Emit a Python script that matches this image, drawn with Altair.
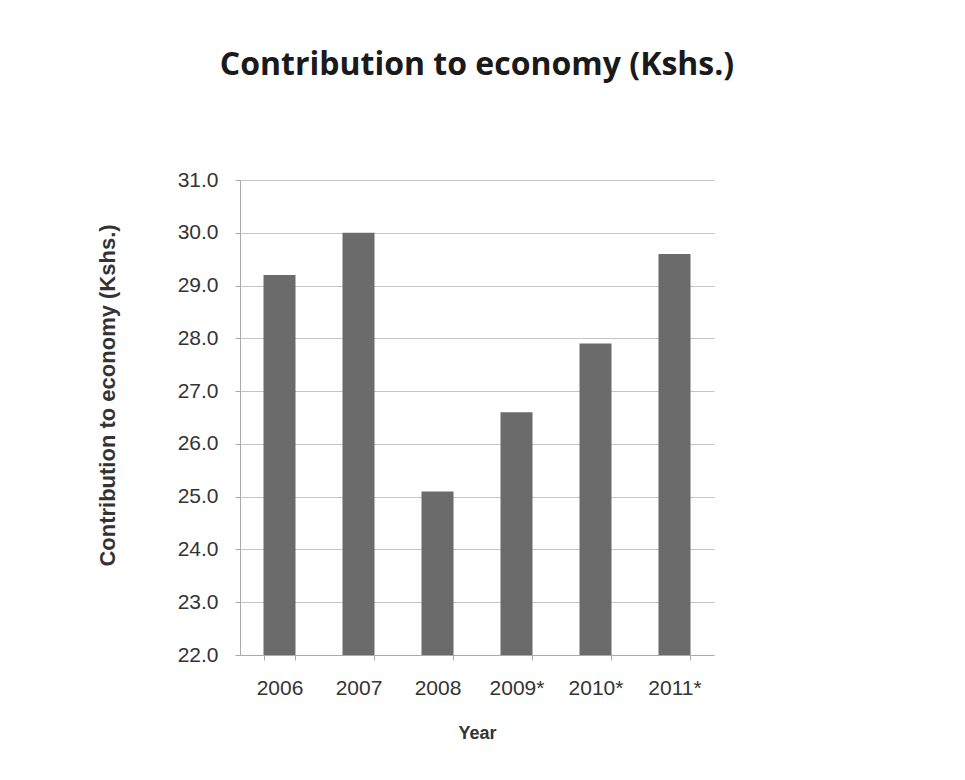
import altair as alt
import pandas as pd

years = ["2006", "2007", "2008", "2009*", "2010*", "2011*"]
values = [29.2, 30.0, 25.1, 26.6, 27.9, 29.6]
y_ticks = [22, 23, 24, 25, 26, 27, 28, 29, 30, 31]

df = pd.DataFrame({"Year": years, "Value": values})

chart = alt.Chart(df).mark_bar(color="#6b6b6b", size=32, clip=True).encode(
    x=alt.X("Year:N", sort=years, title="Year",
            scale=alt.Scale(paddingInner=0.6, paddingOuter=0.3),
            axis=alt.Axis(labelAngle=0, labelFont="Liberation Sans", labelFontSize=21,
                          labelColor="#333333", labelPadding=17, tickBand="extent",
                          ticks=True, tickSize=5, tickColor="#aaaaaa",
                          domainColor="#aaaaaa", titleFont="Liberation Sans",
                          titleFontSize=18, titleFontWeight="bold", titleColor="#333333",
                          titlePadding=26, grid=False)),
    y=alt.Y("Value:Q", title="Contribution to economy (Kshs.)",
            scale=alt.Scale(domain=[22, 31], nice=False, zero=False),
            axis=alt.Axis(values=y_ticks, format=".1f", labelFont="Liberation Sans",
                          labelFontSize=21, labelColor="#333333", labelPadding=17,
                          tickSize=5, tickColor="#aaaaaa", domainColor="#aaaaaa",
                          gridColor="#c4c4c4", titleFont="Liberation Sans",
                          titleFontSize=22, titleFontWeight="bold", titleColor="#333333",
                          titlePadding=58, titleY=215)),
).properties(
    width=474, height=475,
    title=alt.TitleParams("Contribution to economy (Kshs.)", font="Open Sans",
                          fontSize=32, fontWeight="bold", color="#1a1a1a",
                          offset=87, anchor="middle"),
    autosize=alt.AutoSizeParams(type="none"),
    padding={"left": 240, "top": 180, "right": 251, "bottom": 125},
).configure(background="white", view=alt.ViewConfig(stroke="transparent", strokeWidth=0))

chart.save("out.html", embed_options={"renderer": "svg", "actions": False})
